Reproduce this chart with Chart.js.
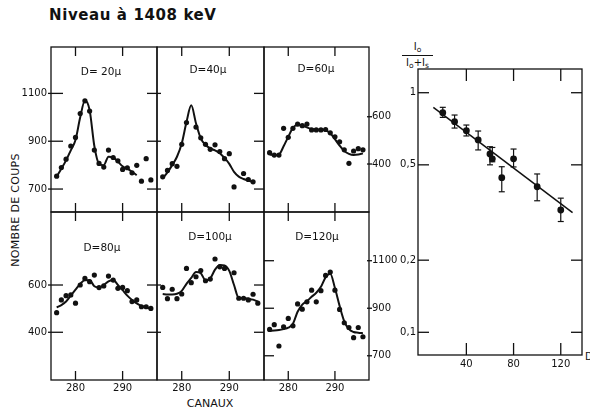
<!DOCTYPE html>
<html>
<head>
<meta charset="utf-8">
<script src="https://cdn.jsdelivr.net/npm/chart.js@4.4.0/dist/chart.umd.min.js"></script>
<style>
  body { margin: 0; background: #fff; width: 590px; height: 409px; overflow: hidden; position: relative; font-family: "DejaVu Sans", sans-serif; color: #111; }
  canvas { position: absolute; left: 0; top: 0; }
  .txt { position: absolute; white-space: nowrap; line-height: 1; color: #111; }
  #title { left: 49px; top: 8px; font-size: 15px; font-weight: bold; letter-spacing: 0.6px; }
  #ylab { left: 15px; top: 210px; font-size: 11px; letter-spacing: 0.3px; transform: translate(-50%, -50%) rotate(-90deg); }
  #xlab { left: 210px; top: 398px; font-size: 11px; transform: translateX(-50%); }
  #frac { left: 402px; top: 42px; width: 31px; font-size: 10px; text-align: center; }
  #frac .num { display: block; padding-bottom: 1px; border-bottom: 1.2px solid #111; }
  #frac .den { display: block; padding-top: 2px; }
  #frac sub { font-size: 7.5px; vertical-align: -2px; }
  #dlab { left: 585px; top: 352px; font-size: 10px; }
</style>
</head>
<body>
<div class="txt" id="title">Niveau à 1408 keV</div>
<div class="txt" id="ylab">NOMBRE DE COUPS</div>
<div class="txt" id="xlab">CANAUX</div>
<div class="txt" id="frac"><span class="num">I<sub>o</sub></span><span class="den">I<sub>o</sub>+I<sub>s</sub></span></div>
<div class="txt" id="dlab">D</div>

<canvas id="p20" width="590" height="409"></canvas>
<canvas id="p40" width="590" height="409"></canvas>
<canvas id="p60" width="590" height="409"></canvas>
<canvas id="p80" width="590" height="409"></canvas>
<canvas id="p100" width="590" height="409"></canvas>
<canvas id="p120" width="590" height="409"></canvas>
<canvas id="pratio" width="590" height="409"></canvas>

<script>
// canaux (axe x des spectres)
const channels = [276, 277, 278, 279, 280, 281, 282, 283, 284, 285, 286, 287, 288, 289, 290, 291, 292, 293, 294, 295, 296];

// points mesurés et courbes ajustées, par épaisseur D
const ptsD20 = [754, 790, 825, 880, 916, 1016, 1069, 1026, 863, 807, 792, 863, 832, 818, 782, 789, 768, 799, 733, 827, 738];
const fitD20 = [752, 785, 820, 862, 905, 1000, 1070, 1030, 880, 805, 800, 835, 832, 815, 795, 785, 772, 758, null, null, null];

const ptsD40 = [751, 778, 806, 795, 887, 978, null, 959, 914, 887, 866, 885, 857, 827, 848, 709, null, 765, 740, 730, null];
const fitD40 = [745, 770, 800, 835, 890, 980, 1050, 975, 912, 885, 870, 862, 850, 830, 805, 772, 752, 742, 735, 730, null];

const ptsD60 = [448, 438, 438, 551, 513, 551, 569, 562, 569, 544, 544, 544, 546, 532, 515, 494, 460, 403, 455, 465, 460];
const fitD60 = [440, 437, 440, 475, 515, 553, 565, 563, 555, 548, 546, 545, 543, 530, 505, 478, 455, 443, 438, 440, 445];

const ptsD80 = [483, 537, 555, 558, 523, 600, 628, 614, 642, 589, 596, 638, 621, 586, 590, 576, 530, 537, 508, 508, 501];
const fitD80 = [505, 515, 530, 555, 580, 605, 620, 620, 595, 590, 600, 615, 622, 600, 578, 555, 537, 522, 511, 505, 500];

const ptsD100 = [590, 542, 582, 542, 562, 670, 610, 635, 661, 618, 625, 710, 677, 670, null, 652, 544, 544, 537, 561, 523];
const fitD100 = [562, 560, 560, 563, 575, 605, 630, 655, 650, 620, 628, 665, 685, 683, 660, 600, 545, 545, 542, 538, 530];

const ptsD120 = [811, 831, 741, 822, 857, 826, 918, 896, 927, 976, 927, 974, 1038, 1052, 976, 895, 839, 819, 776, 819, 780];
const fitD120 = [805, 806, 808, 812, 818, 835, 885, 915, 930, 948, 965, 990, 1030, 1045, 985, 910, 845, 812, 800, 797, 795];

// graduations
const xTicks = [280, 290];
const ticksHigh = [700, 900, 1100];
const ticksLow = [400, 600];

// rapport Io/(Io+Is) en fonction de D
const distD = [20, 30, 40, 50, 60, 62, 70, 80, 100, 120];
const ratio = [0.825, 0.757, 0.694, 0.635, 0.555, 0.53, 0.442, 0.53, 0.405, 0.324];
const ratioLo = [0.789, 0.712, 0.660, 0.577, 0.50, 0.515, 0.386, 0.490, 0.354, 0.29];
const ratioHi = [0.869, 0.807, 0.733, 0.692, 0.595, 0.591, 0.491, 0.582, 0.458, 0.363];
const fitDist = [12, 130];
const fitRatio = [0.869, 0.316];
const ratioTicks = [1, 0.5, 0.2, 0.1];
const ratioTickLabels = ['1', '0,5', '0,2', '0,1'];
const distTicks = [40, 80, 120];

const INK = '#111';

function seg(ctx, x1, y1, x2, y2) {
  ctx.beginPath();
  ctx.moveTo(x1, y1);
  ctx.lineTo(x2, y2);
  ctx.stroke();
}

/**
 * Cadre, graduations intérieures et étiquettes d'un panneau
 */
const framePlugin = {
  id: 'frame',
  afterDraw(chart, args, o) {
    const { ctx, chartArea: a, scales: { x, y } } = chart;
    ctx.save();
    ctx.strokeStyle = INK;
    ctx.fillStyle = INK;
    ctx.lineWidth = 1.3;
    ctx.strokeRect(a.left, a.top, a.right - a.left, a.bottom - a.top);

    // graduations y
    o.yTicks.forEach((v, i) => {
      const py = y.getPixelForValue(v);
      if (o.inL) seg(ctx, a.left - (o.outL || 0), py, a.left + o.inL, py);
      if (o.inR) seg(ctx, a.right - o.inR, py, a.right + (o.outR || 0), py);
    });
    // graduations x
    o.xTicks.forEach(v => {
      const px = x.getPixelForValue(v);
      seg(ctx, px, a.top, px, a.top + o.inT);
      seg(ctx, px, a.bottom - o.inB, px, a.bottom);
    });

    ctx.font = o.font;
    ctx.textBaseline = 'middle';
    if (o.yLabels) {
      ctx.textAlign = o.yLabels === 'left' ? 'right' : 'left';
      const lx = o.yLabels === 'left' ? a.left - o.yGap : a.right + o.yGap;
      o.yTicks.forEach((v, i) => {
        const txt = o.yTickText ? o.yTickText[i] : String(v);
        ctx.fillText(txt, lx, y.getPixelForValue(v));
      });
    }
    if (o.xLabels) {
      ctx.textAlign = 'center';
      o.xTicks.forEach(v => ctx.fillText(String(v), x.getPixelForValue(v), a.bottom + o.xGap));
    }
    if (o.label) {
      ctx.font = '10.5px "DejaVu Sans"';
      ctx.textAlign = 'center';
      ctx.fillText(o.label, o.labelPos[0], o.labelPos[1]);
    }
    ctx.restore();
  }
};

/**
 * Barres d'erreur du graphique de droite
 */
const errorBarPlugin = {
  id: 'errbars',
  afterDatasetsDraw(chart, args, o) {
    if (!o.lo) return;
    const { ctx, scales: { x, y } } = chart;
    ctx.save();
    ctx.strokeStyle = INK;
    ctx.lineWidth = 1.2;
    o.xs.forEach((d, i) => {
      const px = x.getPixelForValue(d);
      const p1 = y.getPixelForValue(o.lo[i]);
      const p2 = y.getPixelForValue(o.hi[i]);
      seg(ctx, px, p1, px, p2);
      seg(ctx, px - 3, p1, px + 3, p1);
      seg(ctx, px - 3, p2, px + 3, p2);
    });
    ctx.restore();
  }
};

function padFor(box) {
  return { left: box[0], top: box[1], right: 590 - box[2], bottom: 409 - box[3] };
}

function makeSpectrum(id, pts, fit, box, yRange, frameOpts) {
  new Chart(document.getElementById(id), {
    type: 'line',
    data: {
      datasets: [{
        data: channels.map((c, i) => ({ x: c, y: fit[i] })),
        borderColor: INK,
        borderWidth: 2,
        pointRadius: 0,
        cubicInterpolationMode: 'monotone',
        spanGaps: false
      }, {
        data: channels.map((c, i) => ({ x: c, y: pts[i] })),
        showLine: false,
        pointRadius: 2.6,
        pointBorderWidth: 0,
        pointBackgroundColor: INK
      }]
    },
    options: {
      responsive: false,
      animation: false,
      events: [],
      layout: { padding: padFor(box) },
      scales: {
        x: { type: 'linear', min: 274.8, max: 297.3, display: false },
        y: { type: 'linear', min: yRange[0], max: yRange[1], display: false }
      },
      plugins: {
        legend: { display: false },
        tooltip: { enabled: false },
        frame: Object.assign({
          xTicks: xTicks, inT: 9, inB: 9, font: '10px "DejaVu Sans"', yGap: 4, xGap: 8
        }, frameOpts)
      }
    },
    plugins: [framePlugin]
  });
}

// rangée du haut
makeSpectrum('p20', ptsD20, fitD20, [51, 47, 157, 212], [604, 1294],
  { yTicks: ticksHigh, inL: 12, outL: 3, inR: 10, yLabels: 'left', label: 'D= 20µ', labelPos: [101, 72] });
makeSpectrum('p40', ptsD40, fitD40, [157, 47, 264, 212], [604, 1294],
  { yTicks: ticksHigh, inL: 4, inR: 10, label: 'D=40µ', labelPos: [208, 70] });
makeSpectrum('p60', ptsD60, fitD60, [264, 47, 369, 212], [197, 895],
  { yTicks: ticksLow, inR: 2, outR: 3, yLabels: 'right', yGap: 3, label: 'D=60µ', labelPos: [316, 69] });

// rangée du bas
makeSpectrum('p80', ptsD80, fitD80, [51, 212, 157, 380], [198, 909],
  { yTicks: ticksLow, inL: 12, outL: 3, inR: 10, yLabels: 'left', xLabels: true, label: 'D=80µ', labelPos: [102, 248] });
makeSpectrum('p100', ptsD100, fitD100, [157, 212, 264, 380], [198, 909],
  { yTicks: ticksLow, inL: 4, inR: 10, xLabels: true, label: 'D=100µ', labelPos: [210, 237] });
makeSpectrum('p120', ptsD120, fitD120, [264, 212, 369, 380], [598, 1305],
  { yTicks: ticksHigh, inL: 10, inR: 2, outR: 3, yLabels: 'right', yGap: 3, xLabels: true, label: 'D=120µ', labelPos: [317, 237] });

// graphique de droite (échelle logarithmique)
new Chart(document.getElementById('pratio'), {
  type: 'line',
  data: {
    datasets: [{
      data: fitDist.map((d, i) => ({ x: d, y: fitRatio[i] })),
      borderColor: INK,
      borderWidth: 1.5,
      pointRadius: 0
    }, {
      data: distD.map((d, i) => ({ x: d, y: ratio[i] })),
      showLine: false,
      pointRadius: 3.4,
      pointBorderWidth: 0,
      pointBackgroundColor: INK
    }]
  },
  options: {
    responsive: false,
    animation: false,
    events: [],
    layout: { padding: padFor([418, 69, 582, 355]) },
    scales: {
      x: { type: 'linear', min: -1, max: 138, display: false },
      y: { type: 'logarithmic', min: 0.0804, max: 1.256, display: false }
    },
    plugins: {
      legend: { display: false },
      tooltip: { enabled: false },
      errbars: { xs: distD, lo: ratioLo, hi: ratioHi },
      frame: {
        yTicks: ratioTicks, yTickText: ratioTickLabels, xTicks: distTicks,
        inL: 11, inR: 11, inT: 12, inB: 12,
        yLabels: 'left', yGap: 2, xLabels: true, xGap: 9,
        font: '10px "DejaVu Sans"'
      }
    }
  },
  plugins: [framePlugin, errorBarPlugin]
});
</script>
</body>
</html>
